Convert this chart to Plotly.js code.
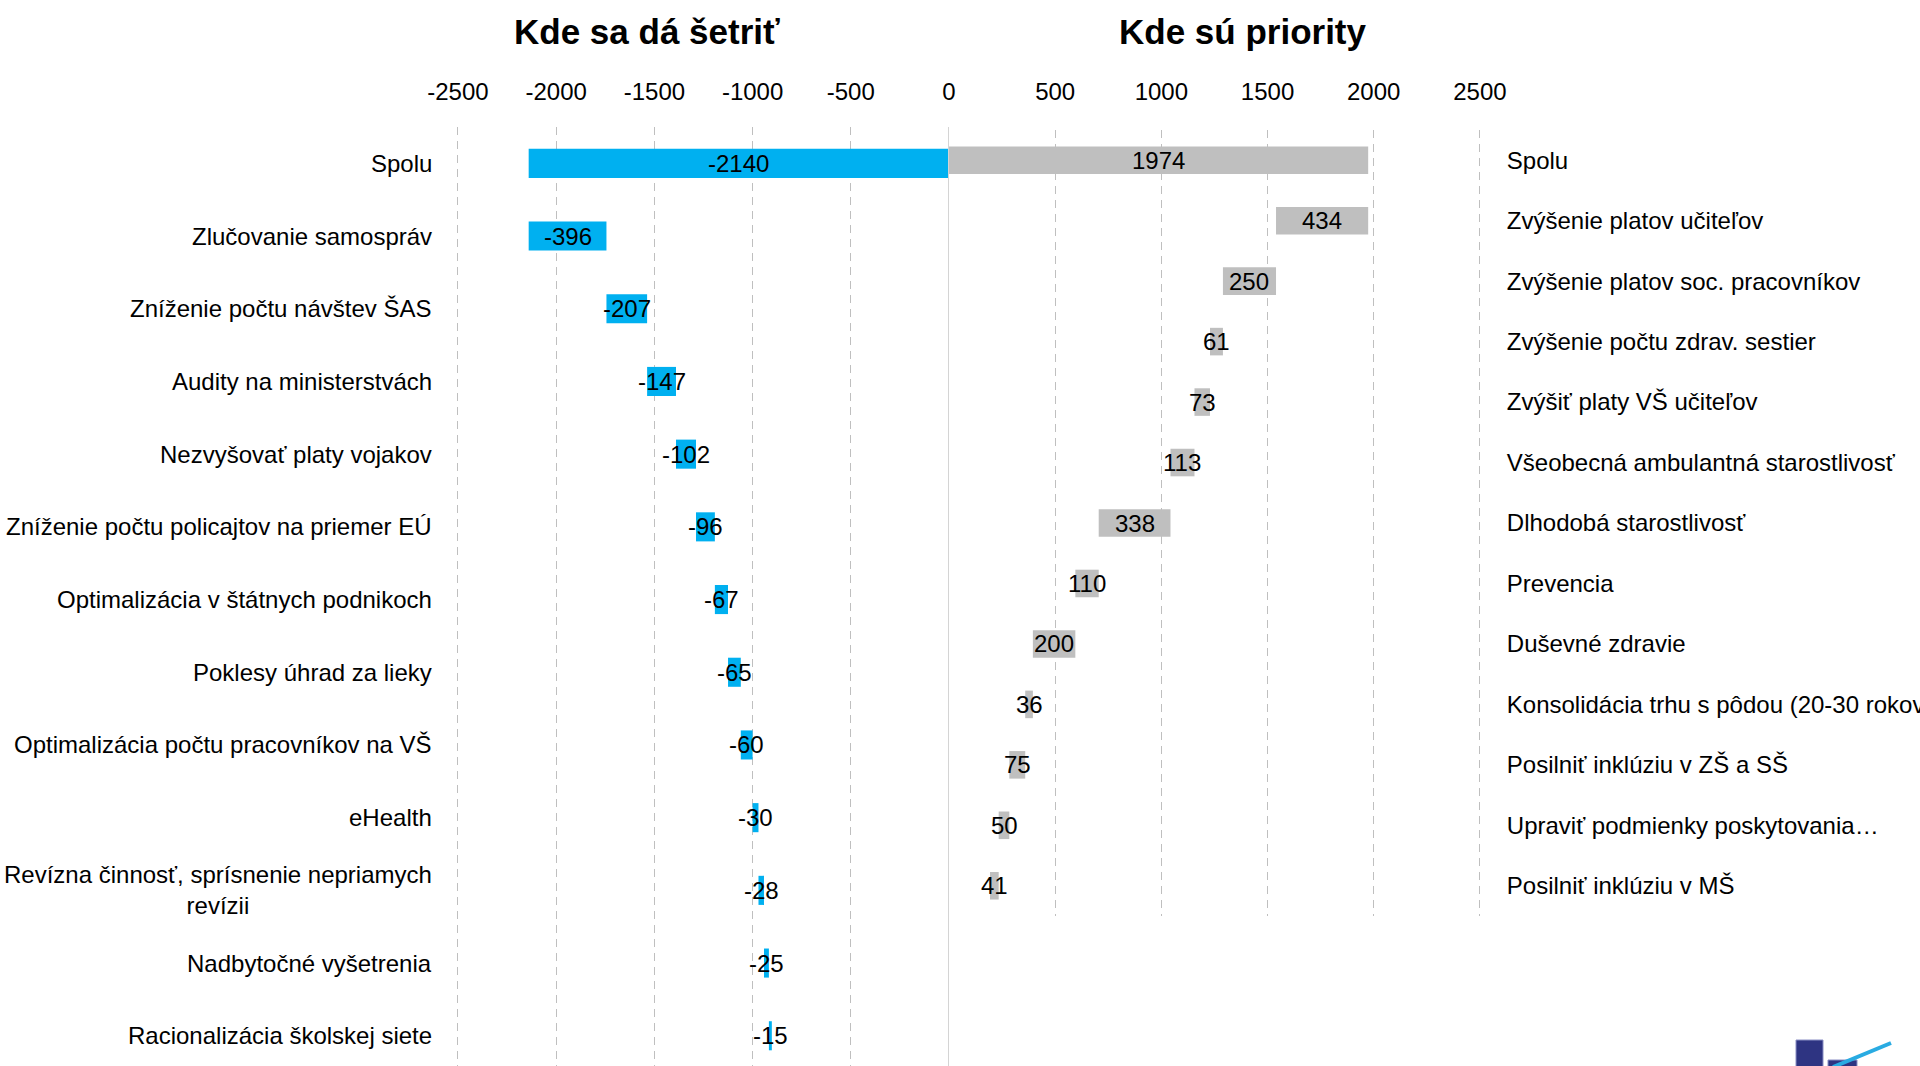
<!DOCTYPE html>
<html>
<head>
<meta charset="utf-8">
<script src="https://cdn.plot.ly/plotly-3.0.1.min.js"></script>
<style>html,body{margin:0;padding:0;background:#fff;}#chart{width:1920px;height:1066px;}</style>
</head>
<body>
<div id="chart"></div>
<script>
// ---- data ----
var leftTitle = "Kde sa dá šetriť";
var rightTitle = "Kde sú priority";

var leftCategories = [
  "Spolu",
  "Zlučovanie samospráv",
  "Zníženie počtu návštev ŠAS",
  "Audity na ministerstvách",
  "Nezvyšovať platy vojakov",
  "Zníženie počtu policajtov na priemer EÚ",
  "Optimalizácia v štátnych podnikoch",
  "Poklesy úhrad za lieky",
  "Optimalizácia počtu pracovníkov na VŠ",
  "eHealth",
  "Revízna činnosť, sprísnenie nepriamych<br>revízii",
  "Nadbytočné vyšetrenia",
  "Racionalizácia školskej siete"
];
var leftValues = [-2140, -396, -207, -147, -102, -96, -67, -65, -60, -30, -28, -25, -15];

var rightCategories = [
  "Spolu",
  "Zvýšenie platov učiteľov",
  "Zvýšenie platov soc. pracovníkov",
  "Zvýšenie počtu zdrav. sestier",
  "Zvýšiť platy VŠ učiteľov",
  "Všeobecná ambulantná starostlivosť",
  "Dlhodobá starostlivosť",
  "Prevencia",
  "Duševné zdravie",
  "Konsolidácia trhu s pôdou (20-30 rokov)",
  "Posilniť inklúziu v ZŠ a SŠ",
  "Upraviť podmienky poskytovania…",
  "Posilniť inklúziu v MŠ"
];
var rightValues = [1974, 434, 250, 61, 73, 113, 338, 110, 200, 36, 75, 50, 41];

var leftTickVals = [-2500, -2000, -1500, -1000, -500];
var rightTickVals = [0, 500, 1000, 1500, 2000, 2500];

// ---- waterfall geometry (computed from data) ----
var leftBase = [], leftLen = [], leftMid = [];
var cur = leftValues[0];
leftValues.forEach(function (v, i) {
  if (i === 0) { leftBase.push(0); leftLen.push(v); leftMid.push(v / 2); }
  else { leftBase.push(cur); leftLen.push(-v); leftMid.push(cur - v / 2); cur = cur - v; }
});
var rightBase = [], rightLen = [], rightMid = [];
cur = rightValues[0];
rightValues.forEach(function (v, i) {
  if (i === 0) { rightBase.push(0); rightLen.push(v); rightMid.push(v / 2); }
  else { rightBase.push(cur - v); rightLen.push(v); rightMid.push(cur - v / 2); cur = cur - v; }
});

var FONT = "'Liberation Sans', Arial, sans-serif";
var FS = 24;
var W = 1920, H = 1066;
function px(x) { return x / W; }
function py(y) { return 1 - y / H; }

var traces = [
  {
    type: 'bar', orientation: 'h',
    y: leftCategories, x: leftLen, base: leftBase,
    xaxis: 'x', yaxis: 'y', width: 0.40,
    marker: {color: '#00b0f0', line: {width: 0}},
    hoverinfo: 'skip', showlegend: false
  },
  {
    type: 'bar', orientation: 'h',
    y: rightCategories, x: rightLen, base: rightBase,
    xaxis: 'x2', yaxis: 'y2', width: 0.456,
    marker: {color: '#bfbfbf', line: {width: 0}},
    hoverinfo: 'skip', showlegend: false
  }
];

var annotations = [
  {text: leftTitle, xref: 'paper', yref: 'paper', x: px(647), y: py(32), xanchor: 'center', yanchor: 'middle',
   showarrow: false, font: {family: FONT, size: 35, weight: 700, color: '#000'}},
  {text: rightTitle, xref: 'paper', yref: 'paper', x: px(1243), y: py(32), xanchor: 'center', yanchor: 'middle',
   showarrow: false, font: {family: FONT, size: 35, weight: 700, color: '#000'}}
];
// left category labels (centered multi-line like the original)
leftCategories.forEach(function (c, i) {
  annotations.push({
    text: c, xref: 'paper', yref: 'y', x: px(434), y: i,
    xanchor: 'right', yanchor: 'middle', align: 'center', showarrow: false,
    font: {family: FONT, size: FS, color: '#000'}
  });
});
// value labels centred on each bar
leftValues.forEach(function (v, i) {
  annotations.push({
    text: String(v), xref: 'x', yref: 'y', x: leftMid[i], y: i,
    xanchor: 'center', yanchor: 'middle', showarrow: false,
    font: {family: FONT, size: FS, color: '#000'}
  });
});
rightValues.forEach(function (v, i) {
  annotations.push({
    text: String(v), xref: 'x2', yref: 'y2', x: rightMid[i], y: i,
    xanchor: 'center', yanchor: 'middle', showarrow: false,
    font: {family: FONT, size: FS, color: '#000'}
  });
});

var layout = {
  width: W, height: H,
  margin: {l: 0, r: 0, t: 0, b: 0, pad: 0},
  paper_bgcolor: '#fff', plot_bgcolor: 'rgba(0,0,0,0)',
  showlegend: false,
  font: {family: FONT, size: FS, color: '#000'},
  xaxis: {
    domain: [px(456), px(949)], range: [-2510, 0], anchor: 'y', side: 'top',
    tickvals: leftTickVals, ticktext: leftTickVals.map(String),
    ticks: 'outside', ticklen: 16, tickcolor: 'rgba(0,0,0,0)',
    showgrid: true, gridcolor: '#bfbfbf', gridwidth: 1, griddash: '8px,6px',
    zeroline: false, showline: false,
    tickfont: {family: FONT, size: FS, color: '#000'}
  },
  yaxis: {
    domain: [0, py(127)], type: 'category', range: [12.416, -0.5], anchor: 'x',
    showticklabels: false, showgrid: false, zeroline: false, showline: false, ticks: ''
  },
  xaxis2: {
    domain: [px(949), px(1482)], range: [0, 2510], anchor: 'y2', side: 'top',
    tickvals: rightTickVals, ticktext: rightTickVals.map(String),
    ticks: 'outside', ticklen: 19, tickcolor: 'rgba(0,0,0,0)',
    showgrid: true, gridcolor: '#bfbfbf', gridwidth: 1, griddash: '8px,6px',
    zeroline: false, showline: false,
    tickfont: {family: FONT, size: FS, color: '#000'}
  },
  yaxis2: {
    domain: [py(916), py(130)], type: 'category', range: [12.5, -0.5], anchor: 'x2', side: 'right',
    ticks: 'outside', ticklen: 19, tickcolor: 'rgba(0,0,0,0)',
    showgrid: false, zeroline: false, showline: false,
    tickfont: {family: FONT, size: FS, color: '#000'}
  },
  annotations: annotations,
  shapes: [
    {type: 'line', xref: 'x', yref: 'paper', x0: 0, x1: 0, y0: 0, y1: py(127),
     line: {color: '#d4d4d4', width: 2}},
    {type: 'rect', xref: 'paper', yref: 'paper', x0: px(1796), x1: px(1823), y0: py(1070), y1: py(1040),
     fillcolor: '#2e3482', line: {color: '#8a8fc4', width: 1}},
    {type: 'rect', xref: 'paper', yref: 'paper', x0: px(1828), x1: px(1857), y0: py(1070), y1: py(1060),
     fillcolor: '#2e3482', line: {color: '#8a8fc4', width: 1}},
    {type: 'line', xref: 'paper', yref: 'paper', x0: px(1833), y0: py(1067), x1: px(1891), y1: py(1043),
     line: {color: '#29abe2', width: 4}}
  ]
};

Plotly.newPlot('chart', traces, layout, {staticPlot: true, displayModeBar: false});
</script>
</body>
</html>
